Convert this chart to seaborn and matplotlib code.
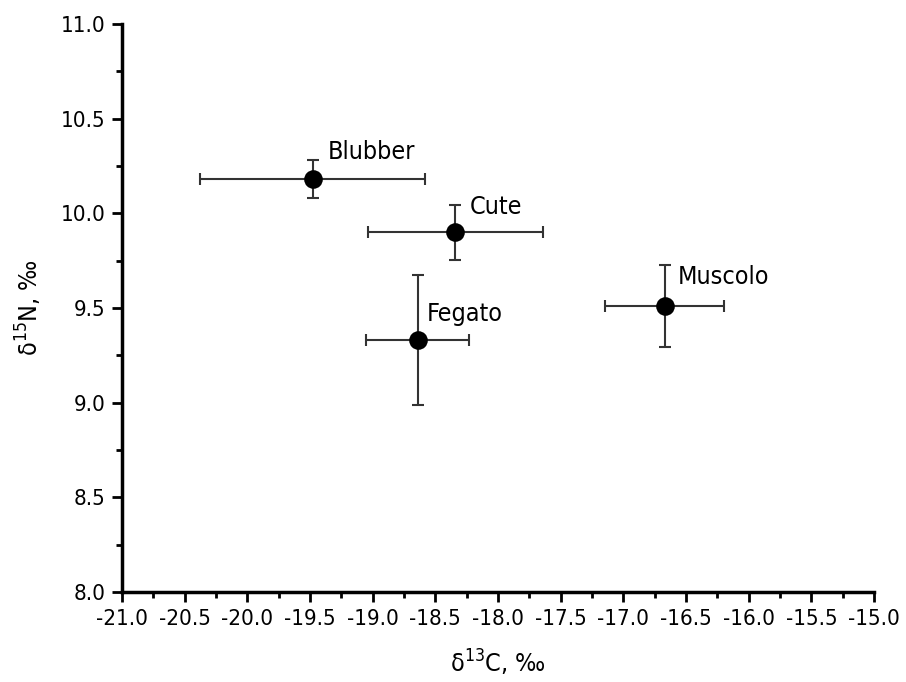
import numpy as np
import pandas as pd
import matplotlib
matplotlib.use("Agg")
import matplotlib.pyplot as plt
from matplotlib.ticker import MultipleLocator, FormatStrFormatter
import seaborn as sns

# 数据
tissues = ["Blubber", "Cute", "Fegato", "Muscolo"]
d13c = [-19.48, -18.34, -18.64, -16.67]
d13c_err = [0.90, 0.695, 0.41, 0.475]
d15n = [10.18, 9.90, 9.33, 9.51]
d15n_err = [0.10, 0.145, 0.345, 0.215]

x_ticks = np.arange(-21.0, -14.99, 0.5)
y_ticks = np.arange(8.0, 11.01, 0.5)

df = pd.DataFrame({"tissue": tissues, "d13C": d13c, "d13C_err": d13c_err,
                   "d15N": d15n, "d15N_err": d15n_err})

sns.set_style("ticks")
plt.rcParams["font.family"] = ["DejaVu Sans"]
plt.rcParams["font.stretch"] = "condensed"
plt.rcParams["mathtext.default"] = "regular"
plt.rcParams["text.color"] = "black"
plt.rcParams["axes.labelcolor"] = "black"
plt.rcParams["xtick.color"] = "black"
plt.rcParams["ytick.color"] = "black"

fig = plt.figure(figsize=(9.06, 6.82), dpi=100)
ax = fig.add_axes([0.1347, 0.132, 0.830, 0.8328])

ax.errorbar(df["d13C"], df["d15N"], xerr=df["d13C_err"], yerr=df["d15N_err"],
            fmt="none", ecolor="#333333", elinewidth=1.5, capsize=4, capthick=1.5, zorder=2)
sns.scatterplot(data=df, x="d13C", y="d15N", ax=ax, color="black", s=180,
                edgecolor="black", linewidth=0, zorder=3, legend=False)

# 标签偏移 (points)
offsets = [(11, 14.5), (10, 13), (6.5, 13.7), (9.4, 16)]
for name, x, y, off in zip(df["tissue"], df["d13C"], df["d15N"], offsets):
    ax.annotate(name, (x, y), xytext=off, textcoords="offset points",
                fontsize=18, va="baseline", ha="left")

ax.set_xlim(-21.0, -15.0)
ax.set_ylim(8.0, 11.0)
ax.set_xticks(x_ticks)
ax.set_yticks(y_ticks)
ax.xaxis.set_major_formatter(FormatStrFormatter("%.1f"))
ax.yaxis.set_major_formatter(FormatStrFormatter("%.1f"))
ax.xaxis.set_minor_locator(MultipleLocator(0.25))
ax.yaxis.set_minor_locator(MultipleLocator(0.25))
ax.tick_params(which="major", length=7, width=2, labelsize=16, pad=5)
ax.tick_params(which="minor", length=4, width=2)

for s in ["top", "right"]:
    ax.spines[s].set_visible(False)
for s in ["left", "bottom"]:
    ax.spines[s].set_linewidth(2.5)
    ax.spines[s].set_color("black")

ax.set_xlabel("δ$^{13}$C, ‰", fontsize=18, labelpad=14)
ax.set_ylabel("δ$^{15}$N, ‰", fontsize=18, labelpad=12)

fig.savefig("out.png", dpi=100)
